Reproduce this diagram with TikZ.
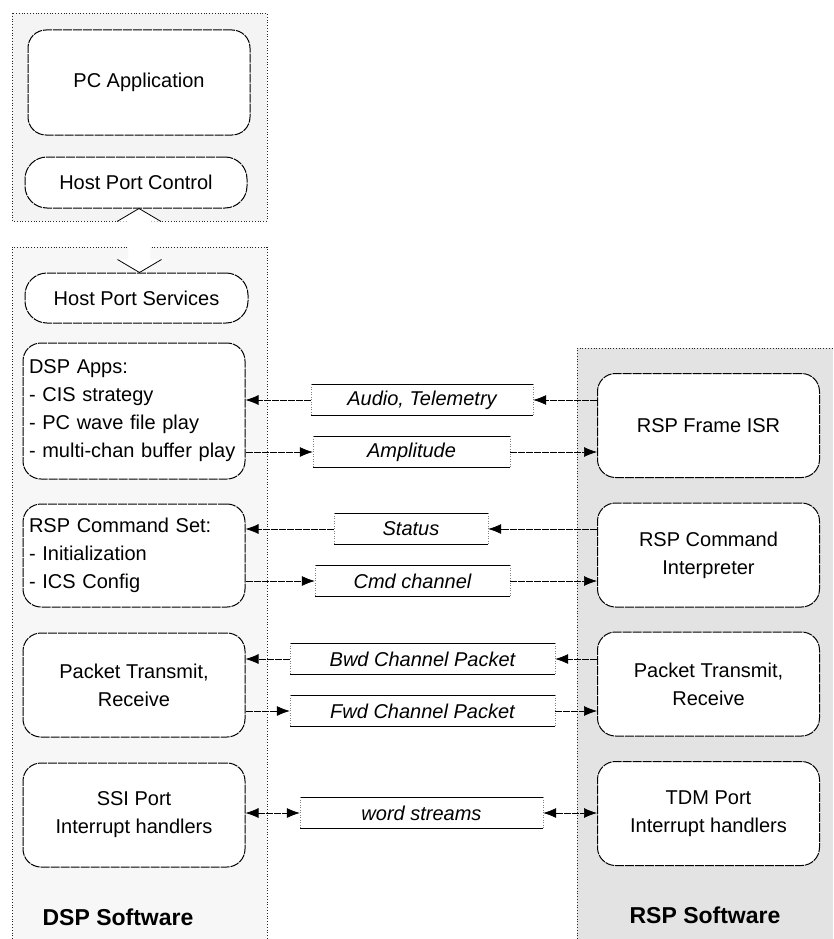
\documentclass[tikz,border=0pt]{standalone}
\usepackage{fontspec}
\setmainfont{Liberation Sans}
\usetikzlibrary{arrows.meta,calc}
\begin{document}
\begin{tikzpicture}[x=1pt,y=-1pt,
  panel/.style={draw=black!85, line width=0.8pt, dotted},
  box/.style={draw=black, fill=white, rounded corners=18pt, line width=1pt,
     dash pattern=on 9pt off 1pt, inner sep=0pt, align=center,
     font=\fontsize{20}{28}\selectfont, minimum width=222pt},
  lbox/.style={box, align=left, text width=210pt, inner xsep=6pt},
  pill/.style={box, rounded corners=22pt},
  lab/.style={inner sep=0pt, minimum height=31pt, font=\fontsize{20}{24}\selectfont\itshape},
  labline/.style={draw=black, line width=0.7pt},
  labside/.style={draw=black!50, line width=0.5pt, dotted},
  conn/.style={draw=black, line width=0.7pt, dash pattern=on 7pt off 1pt,
     -{Latex[length=13pt,width=10pt]}},
  conntwo/.style={conn, {Latex[length=13pt,width=10pt]}-{Latex[length=13pt,width=10pt]}},
  title/.style={font=\fontsize{23}{28}\selectfont\bfseries}
]
\useasboundingbox (0,0) rectangle (833,939);

% panels
\draw[panel, fill=gray!9] (12,13) rectangle (267,221);
\path[fill=gray!6] (12,247) rectangle (267,939);
\draw[panel] (12,939) -- (12,247) -- (267,247) -- (267,939);
\path[fill=gray!22] (577,348) rectangle (833,939);
\draw[panel] (577,939) -- (577,348) -- (833,348);

% PC side
\node[box, minimum width=222pt, minimum height=105pt] (pcapp) at (139,82.5) {PC Application};
\node[pill, minimum width=222pt, minimum height=51pt] (hpc) at (136,182.5) {Host Port Control};
\node[pill, minimum width=223pt, minimum height=50pt] (hps) at (136.5,298) {Host Port Services};

% host port double block arrow
\coordinate (ht) at ($(hpc.south)+(3,0)$);
\coordinate (hb) at ($(hps.north)+(3,0)$);
\fill[white] (ht) -- ($(ht)+(22,13)$) -- ($(ht)+(11,13)$) -- ($(hb)+(11,-13)$) -- ($(hb)+(22,-13)$)
  -- (hb) -- ($(hb)+(-22,-13)$) -- ($(hb)+(-11,-13)$) -- ($(ht)+(-11,13)$) -- ($(ht)+(-22,13)$) -- cycle;
\draw[line width=0.8pt] ($(ht)+(-22,13)$) -- (ht) -- ($(ht)+(22,13)$);
\draw[line width=0.8pt] ($(hb)+(-22,-13)$) -- (hb) -- ($(hb)+(22,-13)$);

% DSP boxes
\node[lbox, minimum height=136pt] (dspapps) at (134,411)
  {DSP Apps:\\- CIS strategy\\- PC wave file play\\- multi-chan buffer play};
\node[lbox, minimum height=103pt] (cmdset) at (134,555.5)
  {RSP Command Set:\\- Initialization\\- ICS Config};
\node[box, minimum height=104pt] (pktd) at (134,685) {Packet Transmit,\\Receive};
\node[box, minimum height=104pt] (ssi) at (134,815) {SSI Port\\Interrupt handlers};
\node[title] (dsplabel) at (118,917) {DSP Software};

% RSP boxes
\node[box, minimum height=104pt] (frameisr) at (708.5,425.5) {RSP Frame ISR};
\node[box, minimum height=104pt] (cmdint) at (708.5,555) {RSP Command\\Interpreter};
\node[box, minimum height=104pt] (pktr) at (708.5,684) {Packet Transmit,\\Receive};
\node[box, minimum height=104pt] (tdm) at (708.5,813.5) {TDM Port\\Interrupt handlers};
\node[title] (rsplabel) at (705,915) {RSP Software};

% labels
\node[lab, minimum width=222pt] (lab1) at (422,400) {Audio, Telemetry};
\node[lab, minimum width=197pt] (lab2) at (411.5,452) {Amplitude};
\node[lab, minimum width=154pt] (lab3) at (411,529) {Status};
\node[lab, minimum width=195pt] (lab4) at (412.5,581) {Cmd channel};
\node[lab, minimum width=265pt] (lab5) at (422.5,659) {Bwd Channel Packet};
\node[lab, minimum width=265pt] (lab6) at (422.5,711) {Fwd Channel Packet};
\node[lab, minimum width=243pt] (lab7) at (421.5,813) {word streams};
\foreach \l in {lab1,lab2,lab3,lab4,lab5,lab6,lab7}{
  \draw[labline] (\l.north west) -- (\l.north east);
  \draw[labline] (\l.south west) -- (\l.south east);
  \draw[labside] (\l.north west) -- (\l.south west);
  \draw[labside] (\l.north east) -- (\l.south east);
}

% connectors
\draw[conn] (frameisr.west |- lab1.east) -- (lab1.east);
\draw[conn] (lab1.west) -- (dspapps.east |- lab1.west);
\draw[conn] (dspapps.east |- lab2.west) -- (lab2.west);
\draw[conn] (lab2.east) -- (frameisr.west |- lab2.east);
\draw[conn] (cmdint.west |- lab3.east) -- (lab3.east);
\draw[conn] (lab3.west) -- (cmdset.east |- lab3.west);
\draw[conn] (cmdset.east |- lab4.west) -- (lab4.west);
\draw[conn] (lab4.east) -- (cmdint.west |- lab4.east);
\draw[conn] (pktr.west |- lab5.east) -- (lab5.east);
\draw[conn] (lab5.west) -- (pktd.east |- lab5.west);
\draw[conn] (pktd.east |- lab6.west) -- (lab6.west);
\draw[conn] (lab6.east) -- (pktr.west |- lab6.east);
\draw[conntwo] (ssi.east |- lab7.west) -- (lab7.west);
\draw[conntwo] (lab7.east) -- (tdm.west |- lab7.east);
\end{tikzpicture}
\end{document}
